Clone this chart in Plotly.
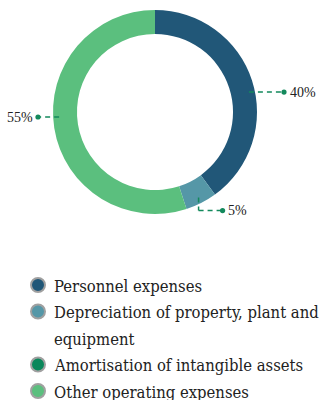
import math
import plotly.graph_objects as go

# ---- data ----
categories = [
    "Personnel expenses",
    "Depreciation of property, plant and\nequipment",
    "Amortisation of intangible assets",
    "Other operating expenses",
]
values = [40, 5, 0, 55]
colors = ["#215778", "#5597a7", "#0b875b", "#5bbf7e"]

# ---- layout constants (pixels) ----
W, H = 328, 400
CX, CY = 155, 112
R_OUT = 102
HOLE = 0.765
R_CONN = 96
SIDE_SHIFT = 6  # degrees, label connectors on the sides
LEADER = "#13895c"
FONT_LABEL = "Liberation Serif"
FONT_LEGEND = "DejaVu Serif Condensed, DejaVu Serif"


def px(x, y):
    return x / W, 1 - y / H


fig = go.Figure()
fig.add_trace(go.Pie(
    labels=[c.replace("\n", " ") for c in categories],
    values=values,
    marker=dict(colors=colors, line=dict(width=0)),
    hole=HOLE,
    sort=False,
    direction="clockwise",
    rotation=0,
    textinfo="none",
    hoverinfo="label+percent",
    showlegend=False,
    domain=dict(x=[(CX - R_OUT) / W, (CX + R_OUT) / W],
                y=[1 - (CY + R_OUT) / H, 1 - (CY - R_OUT) / H]),
))

shapes = []
annotations = []
total = sum(values)
cum = 0
for cat, v in zip(categories, values):
    if v > 0:
        deg = 360 * (cum + v / 2) / total
        side = abs(math.sin(math.radians(deg))) > 0.6
        if side:
            deg += SIDE_SHIFT
        theta = math.radians(deg)
        sx, sy = math.sin(theta), -math.cos(theta)
        ax, ay = CX + R_CONN * sx, CY + R_CONN * sy
        pct = f"{round(100 * v / total)}%"
        if side:
            dot_x = CX + (129 if sx > 0 else -117)
            pts = [(ax, ay), (dot_x, ay)]
            dot_y = ay
        else:
            ey = ay + 13
            dot_x = ax + 24
            pts = [(ax, ay), (ax, ey), (dot_x, ey)]
            dot_y = ey
        for (x0, y0), (x1, y1) in zip(pts[:-1], pts[1:]):
            p0, p1 = px(x0, y0), px(x1, y1)
            shapes.append(dict(type="line", xref="paper", yref="paper",
                               x0=p0[0], y0=p0[1], x1=p1[0], y1=p1[1],
                               line=dict(color=LEADER, width=1.5, dash="5px,4px")))
        d0, d1 = px(dot_x - 2.6, dot_y - 2.6), px(dot_x + 2.6, dot_y + 2.6)
        shapes.append(dict(type="circle", xref="paper", yref="paper",
                           x0=d0[0], y0=d0[1], x1=d1[0], y1=d1[1],
                           fillcolor=LEADER, line=dict(width=0)))
        right = dot_x >= CX
        tx, ty = px(dot_x + (3.5 if right else -3.5), dot_y)
        annotations.append(dict(x=tx, y=ty, xref="paper", yref="paper",
                                text=pct, showarrow=False,
                                xanchor="left" if right else "right",
                                yanchor="middle",
                                font=dict(family=FONT_LABEL, size=14, color="#222222")))
    cum += v

# ---- custom legend ----
LEG_X = 38
LEG_Y0 = 285
ROW = 26.5
row = 0
for cat, col in zip(categories, colors):
    y = LEG_Y0 + row * ROW
    c0, c1 = px(LEG_X - 7, y - 7), px(LEG_X + 7, y + 7)
    shapes.append(dict(type="circle", xref="paper", yref="paper",
                       x0=c0[0], y0=c0[1], x1=c1[0], y1=c1[1],
                       fillcolor=col, line=dict(color="#a0a0a0", width=2)))
    for line in cat.split("\n"):
        yy = LEG_Y0 + row * ROW
        tx, ty = px(52, yy + 1)
        annotations.append(dict(x=tx, y=ty, xref="paper", yref="paper",
                                text=line, showarrow=False,
                                xanchor="left", yanchor="middle",
                                font=dict(family=FONT_LEGEND, size=16.5, color="#222222")))
        row += 1

fig.update_layout(
    width=W, height=H,
    margin=dict(l=0, r=0, t=0, b=0),
    paper_bgcolor="white",
    plot_bgcolor="white",
    shapes=shapes,
    annotations=annotations,
)

fig.write_html("out.html")
